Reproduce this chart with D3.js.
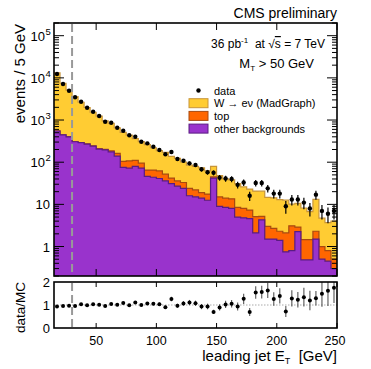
<!DOCTYPE html>
<html><head><meta charset="utf-8">
<style>body{margin:0;background:#fff}</style>
</head><body>
<svg width="371" height="369" font-family="Liberation Sans, Arial, Helvetica, sans-serif"></svg>
<script src="https://d3js.org/d3.v7.min.js"></script>
<script>
// leading jet ET, 5 GeV bins from 15 to 250 GeV
var binLow = 15, binWidth = 5;
var data = [12300, 7150, 4950, 3460, 2720, 1960, 1575, 1245, 912, 864, 657, 558, 434, 402, 306, 280, 233, 195, 154, 174,
  119, 108, 94, 86, 68, 58, 56, 43, 41, 40, 29, 33, 16, 32, 32, 24, 18, 18, 9, 13, 13, 11, 8, 17, 7, 6, 7];
var wenu = [12540, 7000, 4700, 3290, 2350, 1710, 1285, 1020, 748, 643, 488, 407, 331, 252, 211, 197, 155, 127, 119, 96,
  87, 68, 61, 58, 54, 44.5, 35, 33, 26, 24.5, 22.5, 18, 15.7, 15.6, 15.3, 11.7, 11.6, 10.6, 10.5, 7.0, 7.7, 6.75, 5.25, 10.8, 3.7, 2.9, 3.5];
var topQuark = [1, 1.5, 2, 2.5, 3, 4, 5, 6, 7, 12, 22, 30, 35, 30, 23, 19, 21, 21, 16, 11,
  9, 9, 8, 7, 5, 5, 3, 6, 5.5, 5.5, 3.5, 3.2, 2.7, 3, 0.9, 1.5, 1.2, 0.9, 1.35, 2.3, 0.65, 0.97, 0.97, 0.8, 0.5, 0.35, 0.2];
var other = [550, 445, 400, 305, 290, 268, 240, 205, 195, 175, 140, 75, 72, 80, 72, 46, 44, 41, 36, 31,
  27, 24, 16, 15, 14, 12.5, 42, 9, 8.5, 8, 5, 4.8, 4.6, 2.1, 4.3, 1.5, 1.5, 1.4, 0.75, 0.8, 2.25, 0.48, 0.48, 1.5, 0.5, 0.45, 0.3];
var yMajor = [1, 10, 100, 1000, 10000, 100000];
var yMajorExp = [null, null, "2", "3", "4", "5"];
var xTicks = [50, 100, 150, 200, 250];
var ratioTicks = [0, 1, 2];
var cutValue = 30;

var svg = d3.select("svg");
var L = 54, R = 337, T = 23, B = 276, rT = 282, rB = 328;
var x = d3.scaleLinear().domain([15, 250]).range([L, R]);
var y = d3.scaleLog().domain([0.2, 2e5]).range([B, T]);
var yr = d3.scaleLinear().domain([0, 2]).range([rB, rT]);

var stackTop = other.map(function(v, i) { return v + topQuark[i]; });
var stackTotal = stackTop.map(function(v, i) { return v + wenu[i]; });

function steps(vals) {
  var pts = [];
  vals.forEach(function(v, i) {
    var lo = binLow + i * binWidth;
    pts.push([lo, v], [lo + binWidth, v]);
  });
  return pts;
}
function yc(v) { return y(Math.max(v, 0.05)); }

svg.append("clipPath").attr("id", "clipMain").append("rect")
    .attr("x", L).attr("y", T).attr("width", R - L).attr("height", B - T);
svg.append("clipPath").attr("id", "clipRatio").append("rect")
    .attr("x", L).attr("y", rT).attr("width", R - L).attr("height", rB - rT);

var area = d3.area().x(function(d) { return x(d[0]); }).y0(B + 5).y1(function(d) { return yc(d[1]); });
var line = d3.line().x(function(d) { return x(d[0]); }).y(function(d) { return yc(d[1]); });

var main = svg.append("g").attr("clip-path", "url(#clipMain)");
[[stackTotal, "#ffcc33", "#c8953a"], [stackTop, "#ff6600", "#a84a10"], [other, "#9933cc", "#5a1c82"]].forEach(function(s) {
  main.append("path").attr("d", area(steps(s[0]))).attr("fill", s[1]);
  main.append("path").attr("d", line(steps(s[0]))).attr("fill", "none").attr("stroke", s[2]).attr("stroke-width", 1.2);
});

// cut line
[[T, B], [rT, rB]].forEach(function(r) {
  svg.append("line").attr("x1", x(cutValue)).attr("x2", x(cutValue)).attr("y1", r[0] + 1).attr("y2", r[1] - 1)
    .attr("stroke", "#999").attr("stroke-width", 2).attr("stroke-dasharray", "8,4");
});

// data points
var pts = data.map(function(d, i) {
  return {x: binLow + (i + 0.5) * binWidth, v: d, e: Math.sqrt(d), r: d / stackTotal[i], re: Math.sqrt(d) / stackTotal[i]};
});
var dg = main.append("g");
dg.selectAll("line").data(pts).enter().append("line")
    .attr("x1", function(d) { return x(d.x); }).attr("x2", function(d) { return x(d.x); })
    .attr("y1", function(d) { return yc(d.v - d.e); }).attr("y2", function(d) { return yc(d.v + d.e); })
    .attr("stroke", "#000").attr("stroke-width", 1.2);
dg.selectAll("circle").data(pts).enter().append("circle")
    .attr("cx", function(d) { return x(d.x); }).attr("cy", function(d) { return y(d.v); }).attr("r", 2.2).attr("fill", "#000");

// ratio panel
var rg = svg.append("g").attr("clip-path", "url(#clipRatio)");
rg.append("line").attr("x1", L).attr("x2", R).attr("y1", yr(1)).attr("y2", yr(1))
    .attr("stroke", "#aaa").attr("stroke-width", 1).attr("stroke-dasharray", "1.5,1.5");
rg.selectAll("line.err").data(pts).enter().append("line").attr("class", "err")
    .attr("x1", function(d) { return x(d.x); }).attr("x2", function(d) { return x(d.x); })
    .attr("y1", function(d) { return yr(d.r - d.re); }).attr("y2", function(d) { return yr(d.r + d.re); })
    .attr("stroke", "#555").attr("stroke-width", 1.1);
rg.selectAll("circle").data(pts).enter().append("circle")
    .attr("cx", function(d) { return x(d.x); }).attr("cy", function(d) { return yr(d.r); }).attr("r", 2).attr("fill", "#000");

// ticks
var tk = svg.append("g").attr("stroke", "#000").attr("stroke-width", 1);
var minor = [];
[0.1, 1, 10, 100, 1000, 10000, 100000].forEach(function(dec) {
  for (var k = 2; k <= 9; k++) { var v = k * dec; if (v >= 0.2 && v <= 2e5) minor.push(v); }
});
yMajor.forEach(function(v) {
  tk.append("line").attr("x1", L).attr("x2", L + 10).attr("y1", y(v)).attr("y2", y(v));
  tk.append("line").attr("x1", R).attr("x2", R - 10).attr("y1", y(v)).attr("y2", y(v));
});
minor.forEach(function(v) {
  tk.append("line").attr("x1", L).attr("x2", L + 5).attr("y1", y(v)).attr("y2", y(v));
  tk.append("line").attr("x1", R).attr("x2", R - 5).attr("y1", y(v)).attr("y2", y(v));
});
xTicks.forEach(function(v) {
  [[T, 7], [B, -7], [rT, 5], [rB, -5]].forEach(function(p) {
    tk.append("line").attr("x1", x(v)).attr("x2", x(v)).attr("y1", p[0]).attr("y2", p[0] + p[1]);
  });
});

// frames
svg.append("rect").attr("x", L).attr("y", T).attr("width", R - L).attr("height", B - T)
    .attr("fill", "none").attr("stroke", "#000").attr("stroke-width", 1.6);
svg.append("rect").attr("x", L).attr("y", rT).attr("width", R - L).attr("height", rB - rT)
    .attr("fill", "none").attr("stroke", "#000").attr("stroke-width", 1.6);

// tick labels
yMajor.forEach(function(v, i) {
  svg.append("text").attr("x", i < 2 ? 50 : 45).attr("y", y(v) + 5).attr("font-size", 13)
      .attr("text-anchor", "end").text(i < 2 ? String(v) : "10");
  if (yMajorExp[i]) {
    svg.append("text").attr("x", 45.5).attr("y", y(v) - 1).attr("font-size", 9.5).text(yMajorExp[i]);
  }
});
ratioTicks.forEach(function(v) {
  svg.append("text").attr("x", 50).attr("y", yr(v) + 5).attr("font-size", 13).attr("text-anchor", "end").text(v);
});
xTicks.forEach(function(v) {
  svg.append("text").attr("x", x(v) - (v === 250 ? 2 : 0)).attr("y", 345).attr("font-size", 12.5)
      .attr("text-anchor", "middle").text(v);
});

// titles
svg.append("text").attr("x", 337).attr("y", 18).attr("font-size", 14).attr("text-anchor", "end").text("CMS preliminary");
svg.append("text").attr("transform", "translate(25,24) rotate(-90)").attr("font-size", 15)
    .attr("text-anchor", "end").text("events / 5 GeV");
svg.append("text").attr("transform", "translate(25,282) rotate(-90)").attr("font-size", 13.5)
    .attr("text-anchor", "end").text("data/MC");
var xt = svg.append("text").attr("x", 337).attr("y", 361).attr("font-size", 15).attr("text-anchor", "end");
xt.append("tspan").text("leading jet E");
xt.append("tspan").attr("font-size", 9).attr("dy", 3).text("T");
xt.append("tspan").attr("dy", -3).text("\u00a0 [GeV]");

var lumi = svg.append("text").attr("x", 325).attr("y", 48).attr("font-size", 12).attr("text-anchor", "end");
lumi.append("tspan").text("36 pb");
lumi.append("tspan").attr("font-size", 8).attr("dy", -5).text("-1");
lumi.append("tspan").attr("dy", 5).text("\u00a0 at \u221a");
lumi.append("tspan").attr("text-decoration", "overline").text("s");
lumi.append("tspan").text(" = 7 TeV");

var mt = svg.append("text").attr("x", 314).attr("y", 68).attr("font-size", 13).attr("text-anchor", "end");
mt.append("tspan").text("M");
mt.append("tspan").attr("font-size", 8).attr("dy", 3).text("T");
mt.append("tspan").attr("dy", -3).text(" > 50 GeV");

// legend
var legendNames = ["data", "W \u2192 e\u03bd (MadGraph)", "top", "other backgrounds"];
var legendFill = [null, "#ffcc33", "#ff6600", "#9933cc"];
var legendStroke = [null, "#c8953a", "#a84a10", "#5a1c82"];
var lg = svg.append("g").attr("font-size", 11);
legendNames.forEach(function(name, i) {
  var cy = 90.5 + i * 12.7;
  if (legendFill[i]) {
    lg.append("rect").attr("x", 189).attr("y", cy - 4.5).attr("width", 19).attr("height", 9)
      .attr("fill", legendFill[i]).attr("stroke", legendStroke[i]).attr("stroke-width", 1);
  } else {
    lg.append("circle").attr("cx", 198.5).attr("cy", cy).attr("r", 2.2).attr("fill", "#000");
  }
  lg.append("text").attr("x", 214).attr("y", cy + 4).text(name);
});
</script>
</body></html>
